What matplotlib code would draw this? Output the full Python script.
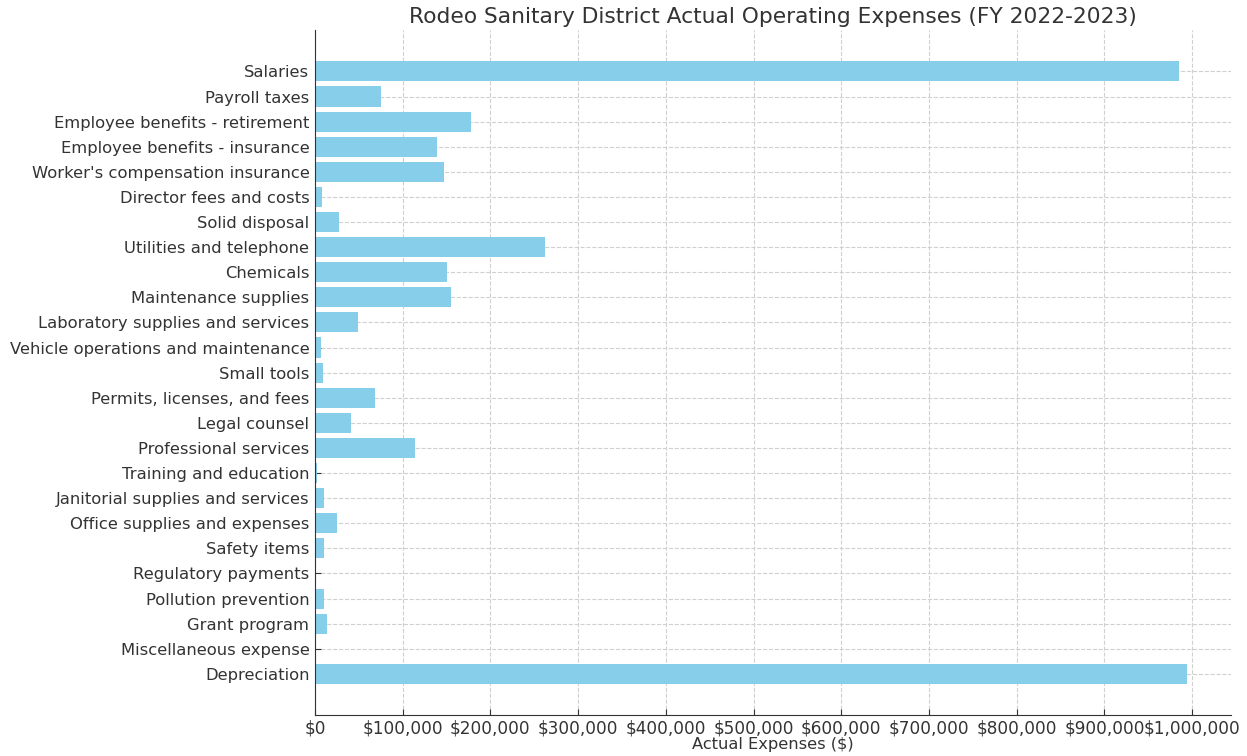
import matplotlib.pyplot as plt
from matplotlib.ticker import FuncFormatter, MultipleLocator

# Расходы по статьям
categories = [
    "Salaries", "Payroll taxes", "Employee benefits - retirement",
    "Employee benefits - insurance", "Worker's compensation insurance",
    "Director fees and costs", "Solid disposal", "Utilities and telephone",
    "Chemicals", "Maintenance supplies", "Laboratory supplies and services",
    "Vehicle operations and maintenance", "Small tools",
    "Permits, licenses, and fees", "Legal counsel", "Professional services",
    "Training and education", "Janitorial supplies and services",
    "Office supplies and expenses", "Safety items", "Regulatory payments",
    "Pollution prevention", "Grant program", "Miscellaneous expense",
    "Depreciation",
]
expenses = [
    985500, 75300, 177900, 139100, 147100,
    7600, 27400, 262300,
    150900, 155100, 49400,
    6800, 9500,
    68800, 40700, 113700,
    2000, 9900,
    25100, 9900, 0,
    10600, 13300, 0,
    994300,
]

plt.rcParams['font.family'] = 'DejaVu Sans'
plt.rcParams['text.color'] = '#333333'

fig = plt.figure(figsize=(12.47, 7.56), dpi=100)
ax = fig.add_axes([0.2526, 0.0542, 0.7344, 0.9058])

ax.barh(categories, expenses, height=0.8, color='skyblue', zorder=2)
ax.invert_yaxis()

ax.set_title('Rodeo Sanitary District Actual Operating Expenses (FY 2022-2023)',
             fontsize=15.7, color='#333333', pad=5)
ax.set_xlabel('Actual Expenses ($)', fontsize=11.7, color='#333333', labelpad=0)
ax.xaxis.set_major_locator(MultipleLocator(100000))
ax.xaxis.set_major_formatter(FuncFormatter(lambda v, p: '${:,.0f}'.format(v)))

ax.grid(True, linestyle='--', color='#d0d0d0', linewidth=0.8, zorder=0)
ax.set_axisbelow(True)
ax.spines['top'].set_visible(False)
ax.spines['right'].set_visible(False)
for s in ('left', 'bottom'):
    ax.spines[s].set_color('#333333')
ax.tick_params(axis='both', direction='in', labelsize=11.8, colors='#333333',
               labelcolor='#333333', length=4)
ax.tick_params(axis='y', pad=4)
ax.tick_params(axis='x', labelsize=12.2, pad=3)

plt.savefig('out.png', dpi=100)
